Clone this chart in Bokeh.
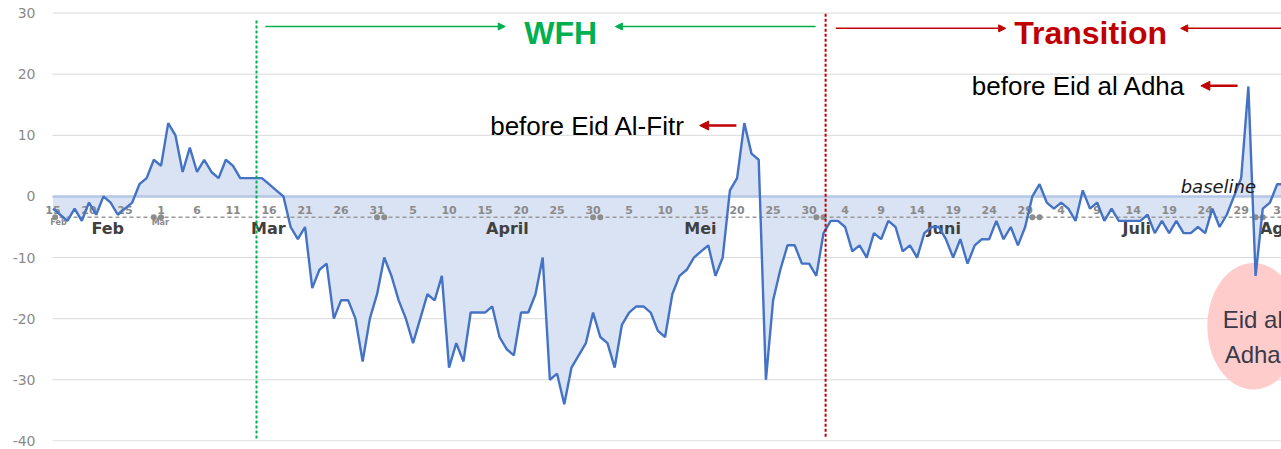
from bokeh.plotting import figure
from bokeh.models import Range1d, FixedTicker, Arrow, NormalHead
from bokeh.embed import file_html
from bokeh.resources import INLINE
from bokeh.core.properties import value

# Daily change (%) vs baseline, starting 15 Feb 2020 (index = days since 15 Feb)
change = [
    -2, -3, -4, -2, -4, -1, -3, 0, -1, -3, -2, -1, 2, 3, 6, 5, 12, 10, 4, 8,
    4, 6, 4, 3, 6, 5, 3, 3, 3, 3, 2, 1, 0,
    -5, -7, -5, -15, -12, -11, -20, -17, -17, -20, -27, -20, -16, -10, -13, -17,
    -20, -24, -20, -16, -17, -13, -28, -24, -27, -19, -19, -19, -18, -23, -25, -26, -19,
    -19, -16, -10, -30, -29, -34, -28, -26, -24, -19, -23, -24, -28, -21, -19, -18,
    -18, -19, -22, -23, -16, -13, -12, -10, -9, -8, -13, -10, 1, 3, 12, 7, 6, -30, -17, -12,
    -8, -8, -11, -11, -13, -6, -4, -4, -5, -9, -8, -10, -6, -7, -4, -5, -9, -8, -10, -6,
    -5, -5, -7, -10, -7, -11, -8, -7, -7, -4, -7, -5,
    -8, -5, 0, 2, -1, -2, -1, -2, -4, 1, -2, -1, -4, -2, -4, -4, -4, -4, -3, -6,
    -4, -6, -4, -6, -6, -5, -6, -2, -5, -3, 0, 3, 18, -13, -2, -1, 2, 2,
]
days = list(range(len(change)))

tick_days = list(range(0, 171, 5))
tick_labels = ["15", "20", "25",
               "1", "6", "11", "16", "21", "26", "31",
               "5", "10", "15", "20", "25", "30",
               "5", "10", "15", "20", "25", "30",
               "4", "9", "14", "19", "24", "29",
               "4", "9", "14", "19", "24", "29",
               "3"]

month_names = ["Feb", "Mar", "April", "Mei", "Juni", "Juli"]
month_pos = [7.6, 29.9, 63.1, 89.9, 123.7, 150.5]
month_starts = [15, 46, 76, 107, 137, 168]  # day index of 1 Mar, 1 Apr, ... 1 Aug

y_ticks = [-40, -30, -20, -10, 0, 10, 20, 30]

X0 = -0.07  # left edge of the plotted area (gridline start)
p = figure(width=1281, height=449,
           x_range=Range1d(X0 - 12 / 7.2, 170.6), y_range=Range1d(-40.1, 30.75),
           x_axis_type=None, output_backend="svg", toolbar_location=None,
           min_border_left=40, min_border_right=0, min_border_top=8, min_border_bottom=8)
p.outline_line_color = None
p.background_fill_color = "white"
p.border_fill_color = "white"

p.yaxis.ticker = FixedTicker(ticks=y_ticks)
p.yaxis.major_label_overrides = {t: str(t) for t in y_ticks}
p.yaxis.axis_line_color = None
p.yaxis.major_tick_line_color = None
p.yaxis.minor_tick_line_color = None
p.yaxis.major_tick_out = 0
p.yaxis.major_label_standoff = 5
p.yaxis.major_label_text_font = "DejaVu Sans"
p.yaxis.major_label_text_font_size = "14px"
p.yaxis.major_label_text_color = "#8a8a8a"
p.ygrid.visible = False

# horizontal gridlines starting at the plot's left edge
gy = [t for t in y_ticks if t != 0]
p.segment(x0=[X0] * len(gy), y0=gy, x1=[175] * len(gy), y1=gy,
          line_color="#d9d9d9", line_width=1)

# Eid al Adha ellipse
p.ellipse(x=[166.7], y=[-21.25], width=12.8, height=20.7,
          fill_color="#ffcccc", line_color=None)

# area fill between series and zero
p.varea(x=days, y1=[0] * len(days), y2=change, fill_color="#dae3f3")

# zero (baseline) line
p.segment(x0=[X0], y0=[0], x1=[175], y1=[0], line_color="#b4c7e7", line_width=2.5)

# dashed category line with month-boundary dots
p.segment(x0=[X0], y0=[-3.4], x1=[175], y1=[-3.4], line_color="#9a9a9a",
          line_width=1.5, line_dash="4 3")
dot_x = [0.3]
for s in month_starts:
    dot_x += [s - 1, s]
p.scatter(x=dot_x, y=[-3.4] * len(dot_x), size=6, fill_color="#8c8c8c", line_color=None)

# day labels and month labels
p.text(x=tick_days, y=[-2.2] * len(tick_days), text=tick_labels,
       text_font=value("DejaVu Sans"), text_font_style="bold", text_font_size="11px",
       text_color="#8a8a8a", text_align="center", text_baseline="middle")
p.text(x=month_pos, y=[-5.2] * len(month_pos), text=month_names,
       text_font=value("DejaVu Sans"), text_font_style="bold", text_font_size="16px",
       text_color="#404040", text_align="center", text_baseline="middle")
p.text(x=[167.6], y=[-5.2], text=["Agustus"],
       text_font=value("DejaVu Sans"), text_font_style="bold", text_font_size="16px",
       text_color="#404040", text_align="left", text_baseline="middle")
p.text(x=[0.76, 14.9], y=[-4.3, -4.2], text=["Feb", "Mar"],
       text_font=value("DejaVu Sans"), text_font_style="bold", text_font_size="8px",
       text_color="#8a8a8a", text_align="center", text_baseline="middle")

# main series
p.line(days, change, line_color="#4472c4", line_width=2.4)

# period separators
p.segment(x0=[28.26], y0=[28.8], x1=[28.26], y1=[-39.6], line_color="#00b050",
          line_width=2, line_dash="3 2")
p.segment(x0=[107.29], y0=[29.9], x1=[107.29], y1=[-39.6], line_color="#c00000",
          line_width=2, line_dash="3 2")

# period titles
p.text(x=[70.5], y=[26.8], text=["WFH"], text_font=value("Liberation Sans"),
       text_font_style="bold", text_font_size="32px", text_color="#00b050",
       text_align="center", text_baseline="alphabetic")
p.text(x=[144.1], y=[26.8], text=["Transition"], text_font=value("Liberation Sans"),
       text_font_style="bold", text_font_size="32px", text_color="#c00000",
       text_align="center", text_baseline="alphabetic")

green = "#00b050"
red = "#c00000"
for xs, xe in [(29.5, 62.8), (105.9, 78.1)]:
    p.add_layout(Arrow(end=NormalHead(size=7, fill_color=green, line_color=green),
                       x_start=xs, y_start=27.8, x_end=xe, y_end=27.8,
                       line_color=green, line_width=1.5))
for xs, xe in [(108.7, 132.3), (171.0, 156.6)]:
    p.add_layout(Arrow(end=NormalHead(size=7, fill_color=red, line_color=red),
                       x_start=xs, y_start=27.5, x_end=xe, y_end=27.5,
                       line_color=red, line_width=1.5))

# event notes
p.text(x=[87.8], y=[11.45], text=["before Eid Al-Fitr"], text_font=value("Liberation Sans"),
       text_font_size="26px", text_color="black", text_align="right",
       text_baseline="alphabetic")
p.add_layout(Arrow(end=NormalHead(size=9, fill_color=red, line_color=red),
                   x_start=94.9, y_start=11.6, x_end=89.8, y_end=11.6,
                   line_color=red, line_width=2.5))
p.text(x=[157.3], y=[18.1], text=["before Eid al Adha"], text_font=value("Liberation Sans"),
       text_font_size="26px", text_color="black", text_align="right",
       text_baseline="alphabetic")
p.add_layout(Arrow(end=NormalHead(size=9, fill_color=red, line_color=red),
                   x_start=164.5, y_start=18.1, x_end=159.4, y_end=18.1,
                   line_color=red, line_width=2.5))
p.text(x=[156.6], y=[1.7], text=["baseline"], text_font=value("DejaVu Sans"),
       text_font_style="italic", text_font_size="18px", text_color="#1a1a1a",
       text_align="left", text_baseline="alphabetic")
p.text(x=[166.6, 166.6], y=[-20.1, -25.8], text=["Eid al", "Adha"],
       text_font=value("Liberation Sans"), text_font_size="24px", text_color="#3a3a48",
       text_align="center", text_baseline="alphabetic")

open("out.html", "w").write(file_html(p, INLINE))
